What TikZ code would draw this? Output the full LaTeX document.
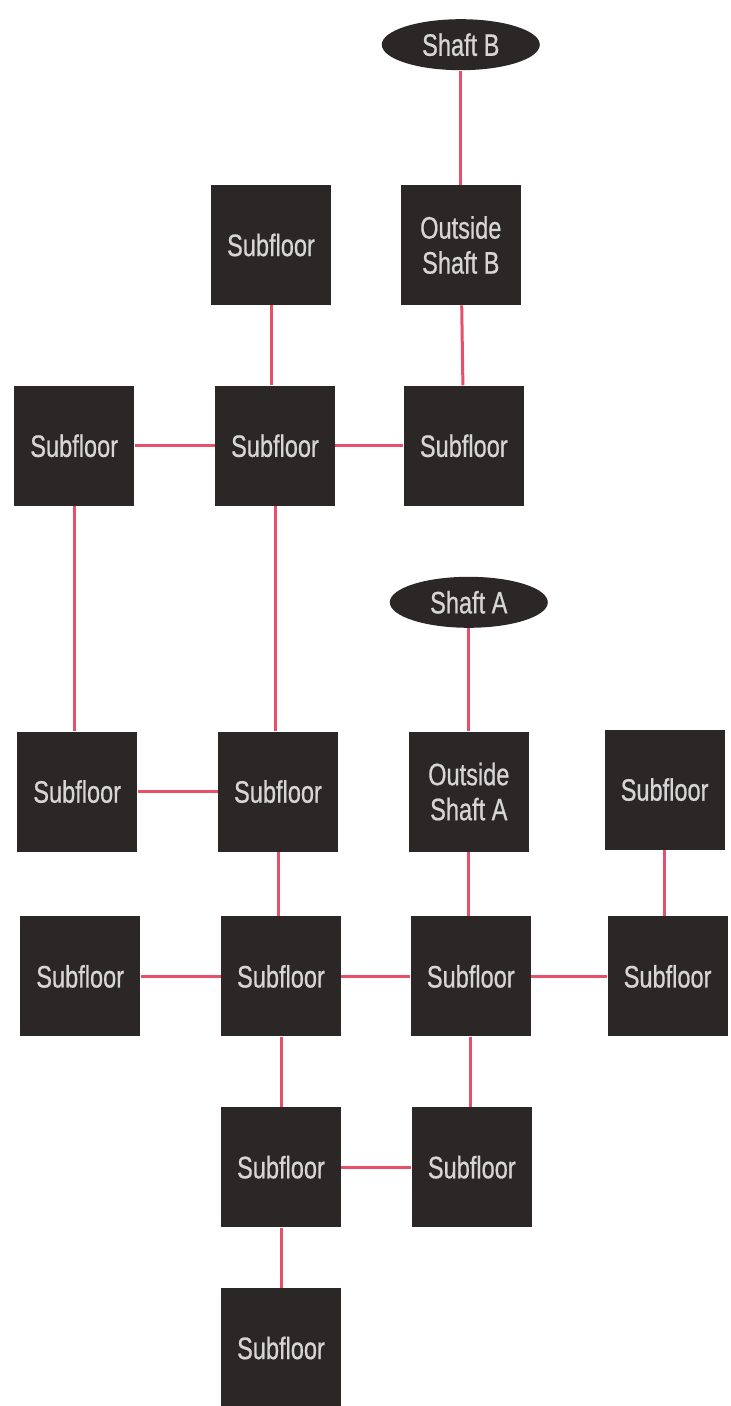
\documentclass[tikz,border=0pt]{standalone}
\usepackage{xcolor}
\usepackage{fontspec}
\setmainfont{Liberation Sans}[FakeStretch=0.76, FakeBold=0.6]
\usepackage{tikz}
\usetikzlibrary{positioning,shapes.geometric}
\definecolor{boxdark}{HTML}{2B2727}
\definecolor{labelgray}{HTML}{D6D6D6}
\definecolor{linkred}{HTML}{E8506A}

\begin{document}
\begin{tikzpicture}[x=0.5pt, y=-0.5pt,
  floorbox/.style={draw=none, fill=boxdark, text=labelgray, minimum width=60pt, minimum height=60pt, inner sep=0pt, align=center, font=\fontsize{15.5}{17.5}\selectfont},
  shaftnode/.style={ellipse, draw=none, fill=boxdark, text=labelgray, minimum width=79pt, minimum height=25.5pt, inner sep=0pt, font=\fontsize{15.5}{17.5}\selectfont},
  link/.style={draw=linkred, line width=1.5pt}]
 \useasboundingbox (0,0) rectangle (730,1406);
 % Upper group: Shaft B side
 \node[floorbox] (SubTop) at (271,245) {Subfloor};
 \node[floorbox, right=34.5pt of SubTop] (OutB) {Outside\\Shaft B};
 \node[shaftnode, above=57pt of OutB] (ShaftB) {Shaft B};
 \node[floorbox, below=40pt of SubTop, xshift=2pt] (SubMidB) {Subfloor};
 \node[floorbox, left=40pt of SubMidB] (SubLeftB) {Subfloor};
 \node[floorbox, right=34pt of SubMidB] (SubRightB) {Subfloor};
 % Lower group: Shaft A side
 \node[floorbox, below=112.5pt of SubMidB, xshift=1.5pt] (SubMidA) {Subfloor};
 \node[floorbox, left=40pt of SubMidA] (SubLeftA) {Subfloor};
 \node[floorbox, right=35pt of SubMidA] (OutA) {Outside\\Shaft A};
 \node[shaftnode, above=51.5pt of OutA] (ShaftA) {Shaft A};
 \node[floorbox, right=37.5pt of OutA, yshift=1pt] (SubFarA) {Subfloor};
 \node[floorbox, below=32pt of SubMidA, xshift=1.5pt] (SubHub) {Subfloor};
 \node[floorbox, left=40pt of SubHub] (SubHubLeft) {Subfloor};
 \node[floorbox, right=34.5pt of SubHub] (SubHubRight) {Subfloor};
 \node[floorbox, right=38pt of SubHubRight] (SubHubFar) {Subfloor};
 \node[floorbox, below=35pt of SubHub] (SubLow) {Subfloor};
 \node[floorbox, right=35pt of SubLow] (SubLowRight) {Subfloor};
 \node[floorbox, below=30pt of SubLow] (SubBottom) {Subfloor};
 % Links between floors
 \draw[link] (ShaftB) -- (OutB);
 \draw[link] (OutB) -- (SubRightB);
 \draw[link] (SubTop) -- (SubTop |- SubMidB.north);
 \draw[link] (SubLeftB) -- (SubMidB);
 \draw[link] (SubMidB) -- (SubRightB);
 \draw[link] (SubLeftB) -- (SubLeftB |- SubLeftA.north);
 \draw[link] (SubMidB) -- (SubMidB |- SubMidA.north);
 \draw[link] (SubLeftA) -- (SubMidA);
 \draw[link] (ShaftA) -- (OutA);
 \draw[link] (SubMidA) -- (SubMidA |- SubHub.north);
 \draw[link] (OutA) -- (OutA |- SubHubRight.north);
 \draw[link] (SubFarA) -- (SubFarA |- SubHubFar.north);
 \draw[link] (SubHubLeft) -- (SubHub);
 \draw[link] (SubHub) -- (SubHubRight);
 \draw[link] (SubHubRight) -- (SubHubFar);
 \draw[link] (SubHub) -- (SubLow);
 \draw[link] (SubHubRight) -- (SubHubRight |- SubLowRight.north);
 \draw[link] (SubLow) -- (SubLowRight);
 \draw[link] (SubLow) -- (SubBottom);
\end{tikzpicture}
\end{document}
